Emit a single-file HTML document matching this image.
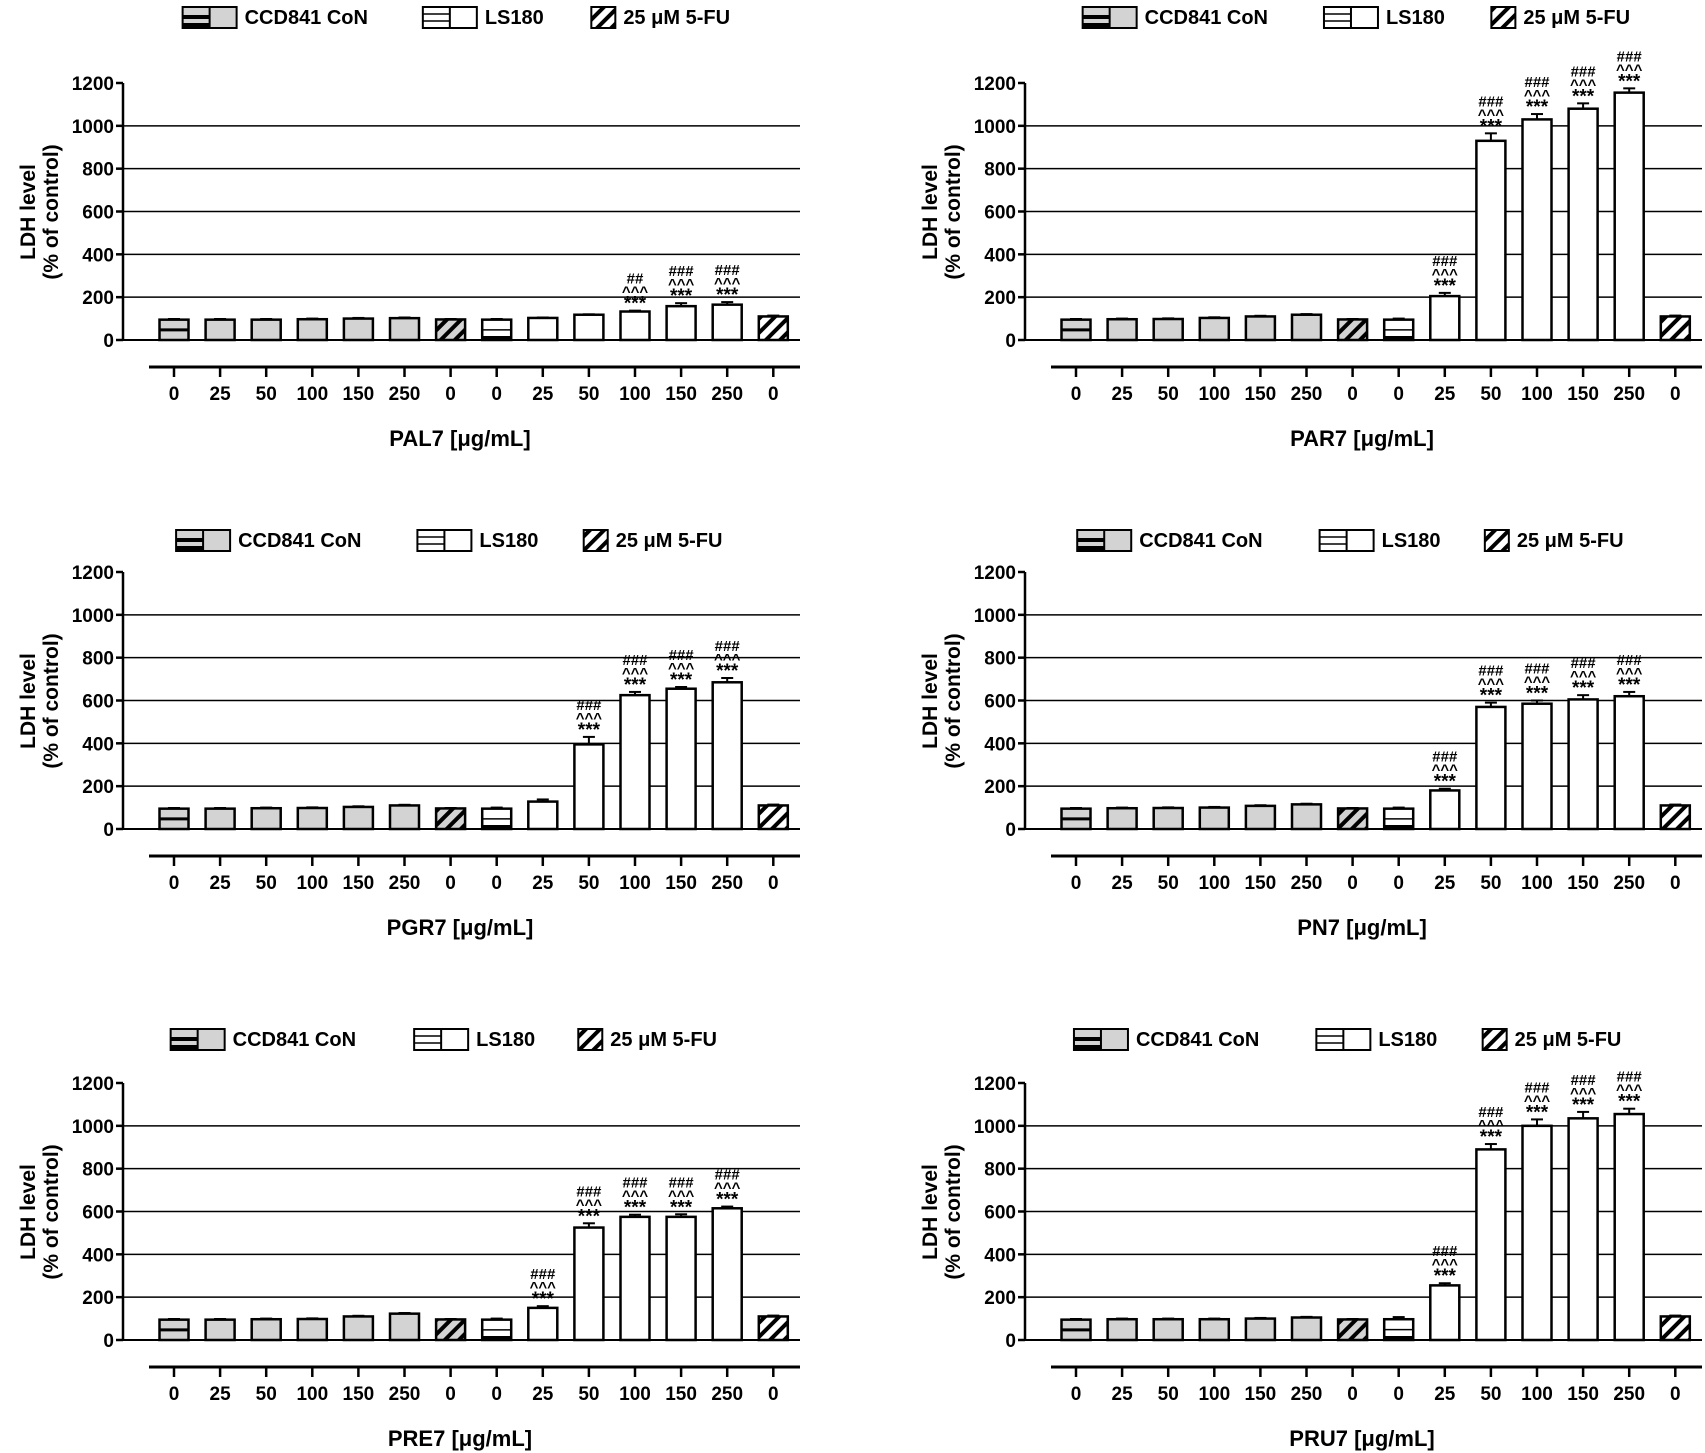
<!DOCTYPE html>
<html><head><meta charset="utf-8"><style>body{margin:0;background:#fff}svg{display:block}text{font-family:"Liberation Sans",sans-serif;font-weight:bold}</style></head>
<body>
<svg id="s" width="1705" height="1453" xmlns="http://www.w3.org/2000/svg">
<defs>
<pattern id="hg" patternUnits="userSpaceOnUse" width="10" height="10" patternTransform="rotate(45)"><rect width="10" height="10" fill="#d3d3d3"/><rect width="4" height="10" fill="#000"/></pattern>
<pattern id="hw" patternUnits="userSpaceOnUse" width="10" height="10" patternTransform="rotate(45)"><rect width="10" height="10" fill="#fff"/><rect width="4" height="10" fill="#000"/></pattern>
</defs>
</svg>
<script>
const S=document.getElementById('s');let h='';
const P=[
{ax:123,by:340,ly:17,lx:[168,389,544],n:'PAL7',c:[95,95,95,97,100,102],l:[95,103,118,133,158,165],a:[0,0,0,2,3,3],e:[3,2,2,4,14,12]},
{ax:1025,by:340,ly:17,lx:[996,1218,1372],n:'PAR7',c:[95,97,98,103,110,118],l:[95,205,930,1030,1080,1155],a:[0,3,3,3,3,3],e:[5,15,35,25,25,20]},
{ax:123,by:829,ly:540,lx:[162,384,537],n:'PGR7',c:[95,95,97,98,103,110],l:[95,128,395,625,655,685],a:[0,0,3,3,3,3],e:[5,10,35,15,8,20]},
{ax:1025,by:829,ly:540,lx:[991,1214,1366],n:'PN7',c:[95,97,98,100,108,115],l:[95,180,570,585,605,620],a:[0,3,3,3,3,3],e:[5,8,20,15,20,20]},
{ax:123,by:1340,ly:1039,lx:[157,381,532],n:'PRE7',c:[95,95,97,98,110,123],l:[95,150,525,575,575,615],a:[0,3,3,3,3,3],e:[5,8,20,10,12,8]},
{ax:1025,by:1340,ly:1039,lx:[988,1211,1364],n:'PRU7',c:[95,97,97,97,100,105],l:[97,255,890,1000,1035,1055],a:[0,3,3,3,3,3],e:[10,10,25,30,30,25]}];
const k=257/1200;
for(const p of P){
 const Y=v=>p.by-v*k, ax=p.ax;
 for(let v=200;v<=1000;v+=200)h+=`<line x1="${ax}" x2="${ax+677}" y1="${Y(v)}" y2="${Y(v)}" stroke="#000" stroke-width="1.5"/>`;
 for(let v=0;v<=1200;v+=200){h+=`<line x1="${ax-7}" x2="${ax}" y1="${Y(v)}" y2="${Y(v)}" stroke="#000" stroke-width="2.5"/><text x="${ax-9}" y="${Y(v)+7}" font-size="19" text-anchor="end">${v}</text>`;}
 h+=`<line x1="${ax}" x2="${ax}" y1="${Y(1200)}" y2="${p.by}" stroke="#000" stroke-width="2.5"/><line x1="${ax}" x2="${ax+677}" y1="${p.by}" y2="${p.by}" stroke="#000" stroke-width="2"/>`;
 const vals=[...p.c,96,...p.l,110], labs=[0,25,50,100,150,250,0,0,25,50,100,150,250,0];
 vals.forEach((v,i)=>{const cx=ax+51+i*46.1,w=29,x=cx-w/2,y=Y(v);
  let fill=i<6?'#d3d3d3':i==6?'url(#hg)':i<13?'#fff':'url(#hw)';
  const e=i<6?3:i==6?2:i<13?p.e[i-7]:4;
  h+=`<line x1="${cx}" x2="${cx}" y1="${y}" y2="${y-e*k}" stroke="#000" stroke-width="2"/><line x1="${cx-6}" x2="${cx+6}" y1="${y-e*k}" y2="${y-e*k}" stroke="#000" stroke-width="2"/>`;
  h+=`<rect x="${x}" y="${y}" width="${w}" height="${p.by-y}" fill="${fill}" stroke="#000" stroke-width="2.5"/>`;
  if(i==0)h+=`<line x1="${x}" x2="${x+w}" y1="${(y+p.by)/2}" y2="${(y+p.by)/2}" stroke="#000" stroke-width="3"/>`;
  if(i==7)h+=`<line x1="${x}" x2="${x+w}" y1="${(y+p.by)/2}" y2="${(y+p.by)/2}" stroke="#000" stroke-width="1.5"/><rect x="${x}" y="${p.by-4}" width="${w}" height="4" fill="#000"/>`;
  if(i>=7&&i<13&&p.a[i-7]){const t=y-e*k-4;
   h+=`<text x="${cx}" y="${t+3}" font-size="19" font-weight="normal" text-anchor="middle">***</text><text x="${cx}" y="${t-10}" font-size="15" font-weight="normal" text-anchor="middle">^^^</text><text x="${cx}" y="${t-23}" font-size="15" font-weight="normal" text-anchor="middle">${p.a[i-7]==2?'##':'###'}</text>`;}
  h+=`<line x1="${cx}" x2="${cx}" y1="${p.by+27}" y2="${p.by+37}" stroke="#000" stroke-width="2.5"/><text x="${cx}" y="${p.by+60}" font-size="19" text-anchor="middle">${labs[i]}</text>`;
 });
 h+=`<line x1="${ax+26}" x2="${ax+677}" y1="${p.by+27}" y2="${p.by+27}" stroke="#000" stroke-width="3"/>`;
 h+=`<text x="${ax+337}" y="${p.by+106}" font-size="22" text-anchor="middle">${p.n} [μg/mL]</text>`;
 const mid=p.by-128;
 h+=`<text transform="translate(${ax-88},${mid}) rotate(-90)" font-size="21" text-anchor="middle">LDH level</text><text transform="translate(${ax-65},${mid}) rotate(-90)" font-size="21" text-anchor="middle">(% of control)</text>`;
 const L=p.lx.map(v=>v*1.087),ly=p.ly,t=ly-10;
 h+=`<rect x="${L[0]}" y="${t}" width="54" height="21" fill="#d3d3d3" stroke="#000" stroke-width="2"/><line x1="${L[0]+27}" x2="${L[0]+27}" y1="${t}" y2="${t+21}" stroke="#000" stroke-width="2"/><rect x="${L[0]}" y="${t+8}" width="27" height="4" fill="#000"/><rect x="${L[0]}" y="${t+16}" width="27" height="5" fill="#000"/><text x="${L[0]+62}" y="${ly+7}" font-size="20">CCD841 CoN</text>`;
 h+=`<rect x="${L[1]}" y="${t}" width="54" height="21" fill="#fff" stroke="#000" stroke-width="2"/><line x1="${L[1]+27}" x2="${L[1]+27}" y1="${t}" y2="${t+21}" stroke="#000" stroke-width="2"/><line x1="${L[1]}" x2="${L[1]+27}" y1="${t+7}" y2="${t+7}" stroke="#000" stroke-width="1.5"/><line x1="${L[1]}" x2="${L[1]+27}" y1="${t+14}" y2="${t+14}" stroke="#000" stroke-width="1.5"/><text x="${L[1]+62}" y="${ly+7}" font-size="20">LS180</text>`;
 h+=`<rect x="${L[2]}" y="${t}" width="24" height="21" fill="url(#hw)" stroke="#000" stroke-width="2"/><text x="${L[2]+32}" y="${ly+7}" font-size="20">25 μM 5-FU</text>`;
}
S.innerHTML+=h;
</script>
</body></html>
